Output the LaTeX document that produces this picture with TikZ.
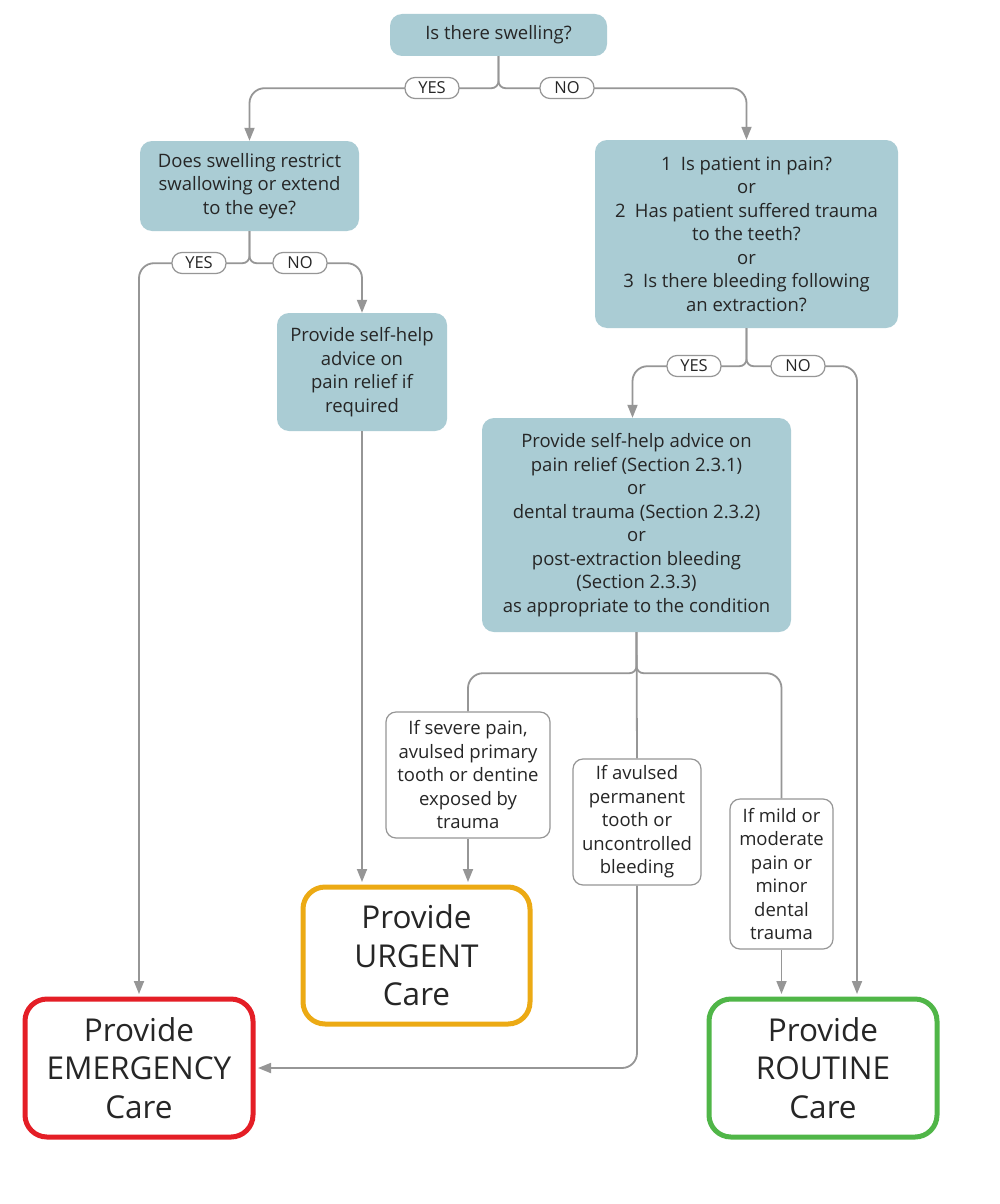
\documentclass[tikz,border=0pt]{standalone}
\usepackage{fontspec}
\setmainfont{Open Sans}
\usetikzlibrary{arrows.meta}
\definecolor{boxblue}{RGB}{170,204,212}
\definecolor{linegray}{RGB}{150,150,150}
\definecolor{txt}{RGB}{38,38,38}
\definecolor{emred}{RGB}{228,30,38}
\definecolor{urgorange}{RGB}{236,170,20}
\definecolor{rtgreen}{RGB}{80,182,72}
\begin{document}
\begin{tikzpicture}[x=1pt,y=-1pt,
 qbox/.style={draw=none, fill=boxblue, rounded corners=12pt, text=txt, align=center, font=\fontsize{18.5}{23.5}\selectfont, inner sep=0pt},
 cbox/.style={draw=linegray, line width=1.2pt, fill=white, rounded corners=10pt, text=txt, align=center, font=\fontsize{18.5}{23.5}\selectfont, inner sep=0pt},
 endbox/.style={line width=5pt, fill=white, rounded corners=22pt, text=txt, align=center, font=\fontsize{31.5}{38.5}\selectfont, inner sep=0pt, minimum width=228pt, minimum height=138pt},
 lbl/.style={draw=linegray, line width=1.2pt, fill=white, rounded corners=10pt, minimum width=54pt, minimum height=21pt, inner sep=0pt, text=txt, font=\fontsize{16.5}{16.5}\selectfont},
 conn/.style={draw=linegray, line width=1.8pt, rounded corners=15pt},
 arr/.style={conn, -{Triangle[length=13pt,width=10pt]}},
]
\useasboundingbox (0,0) rectangle (1000,1204);
\fill[white] (0,0) rectangle (1000,1204);

\node[qbox, minimum width=217pt, minimum height=42pt] (top) at (498.5,35) {Is there swelling?};
\node[qbox, minimum width=219pt, minimum height=90pt] (b2) at (249.5,186) {Does swelling restrict\\swallowing or extend\\to the eye?};
\node[qbox, minimum width=303pt, minimum height=188pt] (b3) at (746.5,234) {1\enspace Is patient in pain?\\or\\2\enspace Has patient suffered trauma\\to the teeth?\\or\\3\enspace Is there bleeding following\\an extraction?};
\node[qbox, minimum width=170pt, minimum height=118pt] (b4) at (362,372) {Provide self-help\\advice on\\pain relief if\\required};
\node[qbox, minimum width=309pt, minimum height=214pt] (b5) at (636.5,525) {Provide self-help advice on\\pain relief (Section 2.3.1)\\or\\dental trauma (Section 2.3.2)\\or\\post-extraction bleeding\\(Section 2.3.3)\\as appropriate to the condition};
\node[cbox, minimum width=164pt, minimum height=126pt] (b6) at (468,775) {If severe pain,\\avulsed primary\\tooth or dentine\\exposed by\\trauma};
\node[cbox, minimum width=128pt, minimum height=126pt] (b7) at (637,822) {If avulsed\\permanent\\tooth or\\uncontrolled\\bleeding};
\node[cbox, minimum width=103pt, minimum height=150pt] (b8) at (781.5,874) {If mild or\\moderate\\pain or\\minor\\dental\\trauma};

\node[endbox, draw=urgorange, minimum width=227pt, minimum height=137pt] (ur) at (416.5,955.5) {Provide\\URGENT\\Care};
\node[endbox, draw=emred] (em) at (139,1068) {Provide\\EMERGENCY\\Care};
\node[endbox, draw=rtgreen] (rt) at (823,1068) {Provide\\ROUTINE\\Care};

% top split
\draw[arr] (top.south) [rounded corners=7pt] -- ++(0,32) [rounded corners=15pt] -| (b2.north);
\draw[arr] (top.south) [rounded corners=7pt] -- ++(0,32) [rounded corners=15pt] -| (b3.north);
\node[lbl] (l1) at (432,88) {YES};
\node[lbl] (l2) at (567,88) {NO};

% b2 split
\draw[arr, shorten >=2.5pt] (b2.south) [rounded corners=7pt] -- ++(0,32) [rounded corners=15pt] -| (em.north);
\draw[arr] (b2.south) [rounded corners=7pt] -- ++(0,32) [rounded corners=15pt] -| (b4.north);
\node[lbl] (l3) at (199,263) {YES};
\node[lbl] (l4) at (300,263) {NO};

% b3 split
\coordinate (rtin) at ([xshift=34pt]rt.north);
\draw[arr] (b3.south) [rounded corners=7pt] -- ++(0,38) [rounded corners=15pt] -| ([xshift=-4pt]b5.north);
\draw[arr, shorten >=2.5pt] (b3.south) [rounded corners=7pt] -- ++(0,38) [rounded corners=15pt] -| (rtin);
\node[lbl] (l5) at (694,366) {YES};
\node[lbl] (l6) at (798,366) {NO};

% b4 to urgent
\draw[arr, shorten >=2.5pt] (b4.south) -- (b4.south |- ur.north);

% b5 split
\draw[conn] (b5.south) [rounded corners=7pt] -- ++(0,41) [rounded corners=15pt] -| (b6.north);
\draw[conn] (b5.south) -- (b7.north);
\draw[conn] (b5.south) [rounded corners=7pt] -- ++(0,41) [rounded corners=15pt] -| (b8.north);

\draw[arr, shorten >=2.5pt] (b6.south) -- (b6.south |- ur.north);
\draw[arr, shorten >=2.5pt] (b7.south) |- (em.east);
\draw[arr, shorten >=2.5pt] (b8.south) -- (b8.south |- rt.north);
\end{tikzpicture}
\end{document}
